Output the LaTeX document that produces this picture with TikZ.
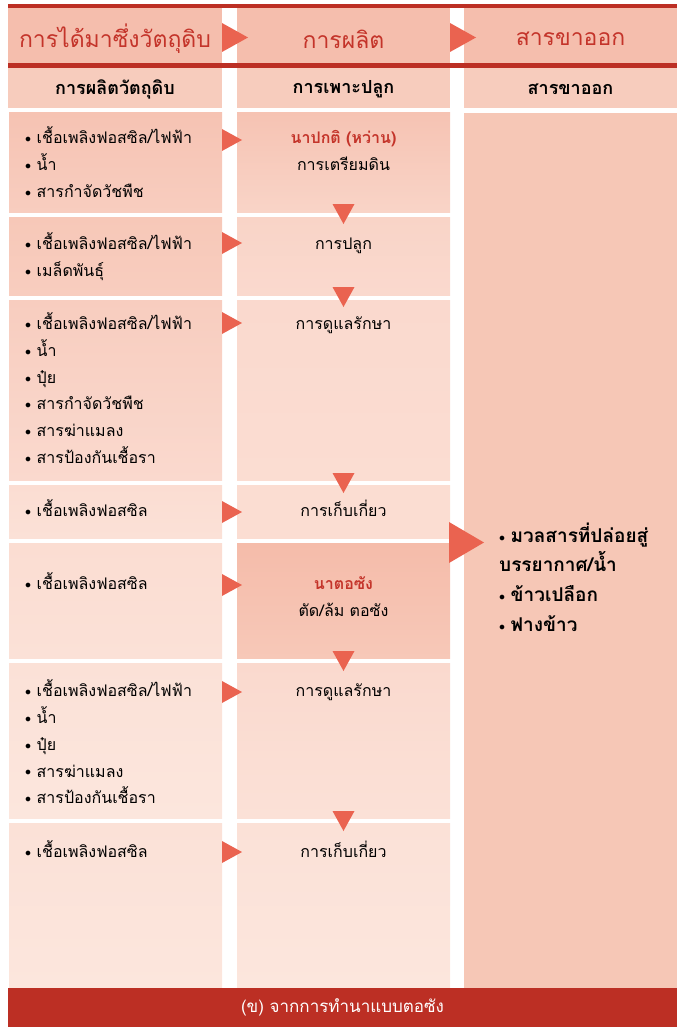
\documentclass[tikz,border=0pt]{standalone}
\usepackage{fontspec}
\newfontfamily\thaifont[Script=Thai]{Loma}
\usepackage{tikz}

\definecolor{deepred}{HTML}{BC2F24}
\definecolor{titlered}{HTML}{C4342A}
\definecolor{headpink}{HTML}{F5BEAD}
\definecolor{subpink}{HTML}{F7CCBD}
\definecolor{outpink}{HTML}{F6C7B6}
\definecolor{tripink}{HTML}{EA6350}
% row shades, darkest to lightest
\definecolor{pinkA}{HTML}{F5BCAA}
\definecolor{pinkB}{HTML}{F6C3B3}
\definecolor{pinkC}{HTML}{F7C8B8}
\definecolor{pinkD}{HTML}{F8CDBF}
\definecolor{pinkE}{HTML}{F9D4C7}
\definecolor{pinkF}{HTML}{FAD9CE}
\definecolor{pinkG}{HTML}{FBDDD2}
\definecolor{pinkH}{HTML}{FBE1D7}
\definecolor{pinkI}{HTML}{FCE6DD}

\newcommand{\fst}{\strut}
\newcommand{\bul}{\raisebox{1.2pt}{\fontsize{12.5}{12.5}\selectfont$\bullet$}\hspace{5.5pt}}

\begin{document}
\begin{tikzpicture}[x=1pt,y=1pt]
				\tikzset{every node/.style={inner sep=0pt, font=\thaifont\fontsize{16}{26.7}\selectfont},
					headtext/.style={font=\thaifont\fontsize{23}{26}\selectfont, text=titlered},
					subtext/.style={font=\thaifont\bfseries\fontsize{18}{20}\selectfont},
					listtext/.style={anchor=north west, align=left},
					steptext/.style={anchor=north, align=center},
					tri/.style={fill=tripink}}
				\useasboundingbox (0,0) rectangle (681,-1027);
				% header band
				\fill [deepred] (8,-4) rectangle (677,-8);
				\fill [headpink] (8,-8) rectangle (222,-63);
				\fill [headpink] (237,-8) rectangle (450,-63);
				\fill [headpink] (464,-8) rectangle (677,-63);
				\fill [deepred] (8,-63) rectangle (677,-68);
				\fill [subpink] (8,-68) rectangle (222,-108);
				\fill [subpink] (237,-68) rectangle (450,-108);
				\fill [subpink] (464,-68) rectangle (677,-108);
				\node [headtext] (h1) at (115,-39) {การได้มาซึ่งวัตถุดิบ};
				\node [headtext] (h2) at (343.5,-39) {การผลิต};
				\node [headtext] (h3) at (570.5,-39) {สารขาออก};
				\node [subtext] (s1) at (115,-89) {การผลิตวัตถุดิบ};
				\node [subtext] (s2) at (343.5,-89) {การเพาะปลูก};
				\node [subtext] (s3) at (570.5,-89) {สารขาออก};
				\fill [tri] (222,-23) -- (248,-37.5) -- (222,-52);
				\fill [tri] (450,-23) -- (476,-37.5) -- (450,-52);
				% column 1
				\shade [top color=pinkB, bottom color=pinkD] (9,-113) rectangle (222,-212);
				\shade [top color=pinkC, bottom color=pinkD] (9,-217) rectangle (222,-295);
				\shade [top color=pinkD, bottom color=pinkF] (9,-300) rectangle (222,-480);
				\shade [top color=pinkG, bottom color=pinkH] (9,-485) rectangle (222,-538);
				\shade [top color=pinkG, bottom color=pinkH] (9,-543) rectangle (222,-658);
				\shade [top color=pinkH, bottom color=pinkI] (9,-663) rectangle (222,-818);
				\shade [top color=pinkH, bottom color=pinkI] (9,-823) rectangle (222,-988);
				% column 2
				\shade [top color=pinkB, bottom color=pinkE] (237,-113) rectangle (450,-212);
				\shade [top color=pinkE, bottom color=pinkF] (237,-217) rectangle (450,-295);
				\shade [top color=pinkF, bottom color=pinkG] (237,-300) rectangle (450,-480);
				\shade [top color=pinkG, bottom color=pinkG] (237,-485) rectangle (450,-538);
				\shade [top color=pinkA, bottom color=pinkC] (237,-543) rectangle (450,-658);
				\shade [top color=pinkF, bottom color=pinkH] (237,-663) rectangle (450,-818);
				\shade [top color=pinkH, bottom color=pinkI] (237,-823) rectangle (450,-988);
				% column 3
				\fill [outpink] (464,-113) rectangle (677,-988);
				% footer
				\fill [deepred] (8,-988) rectangle (677,-1027);
				\node [text=white, font=\thaifont\fontsize{17}{20}\selectfont] (foot) at (342.5,-1007) {(ข) จากการทำนาแบบตอซัง};
				% inputs
				\node [listtext] (in1) at (25,-125) {\fst\bul เชื้อเพลิงฟอสซิล/ไฟฟ้า\\ \bul น้ำ\\ \bul สารกำจัดวัชพืช};
				\node [listtext] (in2) at (25,-231) {\fst\bul เชื้อเพลิงฟอสซิล/ไฟฟ้า\\ \bul เมล็ดพันธุ์};
				\node [listtext] (in3) at (25,-311) {\fst\bul เชื้อเพลิงฟอสซิล/ไฟฟ้า\\ \bul น้ำ\\ \bul ปุ๋ย\\ \bul สารกำจัดวัชพืช\\ \bul สารฆ่าแมลง\\ \bul สารป้องกันเชื้อรา};
				\node [listtext] (in4) at (25,-498) {\fst\bul เชื้อเพลิงฟอสซิล};
				\node [listtext] (in5) at (25,-571) {\fst\bul เชื้อเพลิงฟอสซิล};
				\node [listtext] (in6) at (25,-678) {\fst\bul เชื้อเพลิงฟอสซิล/ไฟฟ้า\\ \bul น้ำ\\ \bul ปุ๋ย\\ \bul สารฆ่าแมลง\\ \bul สารป้องกันเชื้อรา};
				\node [listtext] (in7) at (25,-839) {\fst\bul เชื้อเพลิงฟอสซิล};
				% steps
				\node [steptext] (p1) at (343.5,-125) {\fst\textcolor{titlered}{\bfseries นาปกติ (หว่าน)}\\ การเตรียมดิน};
				\node [steptext] (p2) at (343.5,-231) {\fst การปลูก};
				\node [steptext] (p3) at (343.5,-311) {\fst การดูแลรักษา};
				\node [steptext] (p4) at (343.5,-498) {\fst การเก็บเกี่ยว};
				\node [steptext] (p5) at (343.5,-571) {\fst\textcolor{titlered}{\bfseries นาตอซัง}\\ ตัด/ล้ม ตอซัง};
				\node [steptext] (p6) at (343.5,-678) {\fst การดูแลรักษา};
				\node [steptext] (p7) at (343.5,-839) {\fst การเก็บเกี่ยว};
				% outputs
				\node [listtext, font=\thaifont\bfseries\fontsize{19}{27}\selectfont] (out) at (499,-523) {\fst\bul มวลสารที่ปล่อยสู่\\ บรรยากาศ/น้ำ\\[3pt] \bul ข้าวเปลือก\\[3pt] \bul ฟางข้าว};
				% side arrows
				\fill [tri] (222,-129) -- (242,-140) -- (222,-151);
				\fill [tri] (222,-232) -- (242,-243) -- (222,-254);
				\fill [tri] (222,-312) -- (242,-323) -- (222,-334);
				\fill [tri] (222,-501) -- (242,-512) -- (222,-523);
				\fill [tri] (222,-574) -- (242,-585) -- (222,-596);
				\fill [tri] (222,-681) -- (242,-692) -- (222,-703);
				\fill [tri] (222,-841) -- (242,-852) -- (222,-863);
				\fill [tri] (449,-522) -- (484,-542.5) -- (449,-563);
				% down arrows
				\fill [tri] (332.5,-204) -- (343.5,-224) -- (354.5,-204);
				\fill [tri] (332.5,-287) -- (343.5,-307) -- (354.5,-287);
				\fill [tri] (332.5,-473) -- (343.5,-493) -- (354.5,-473);
				\fill [tri] (332.5,-651) -- (343.5,-671) -- (354.5,-651);
				\fill [tri] (332.5,-811) -- (343.5,-831) -- (354.5,-811);
			\end{tikzpicture}
\end{document}
